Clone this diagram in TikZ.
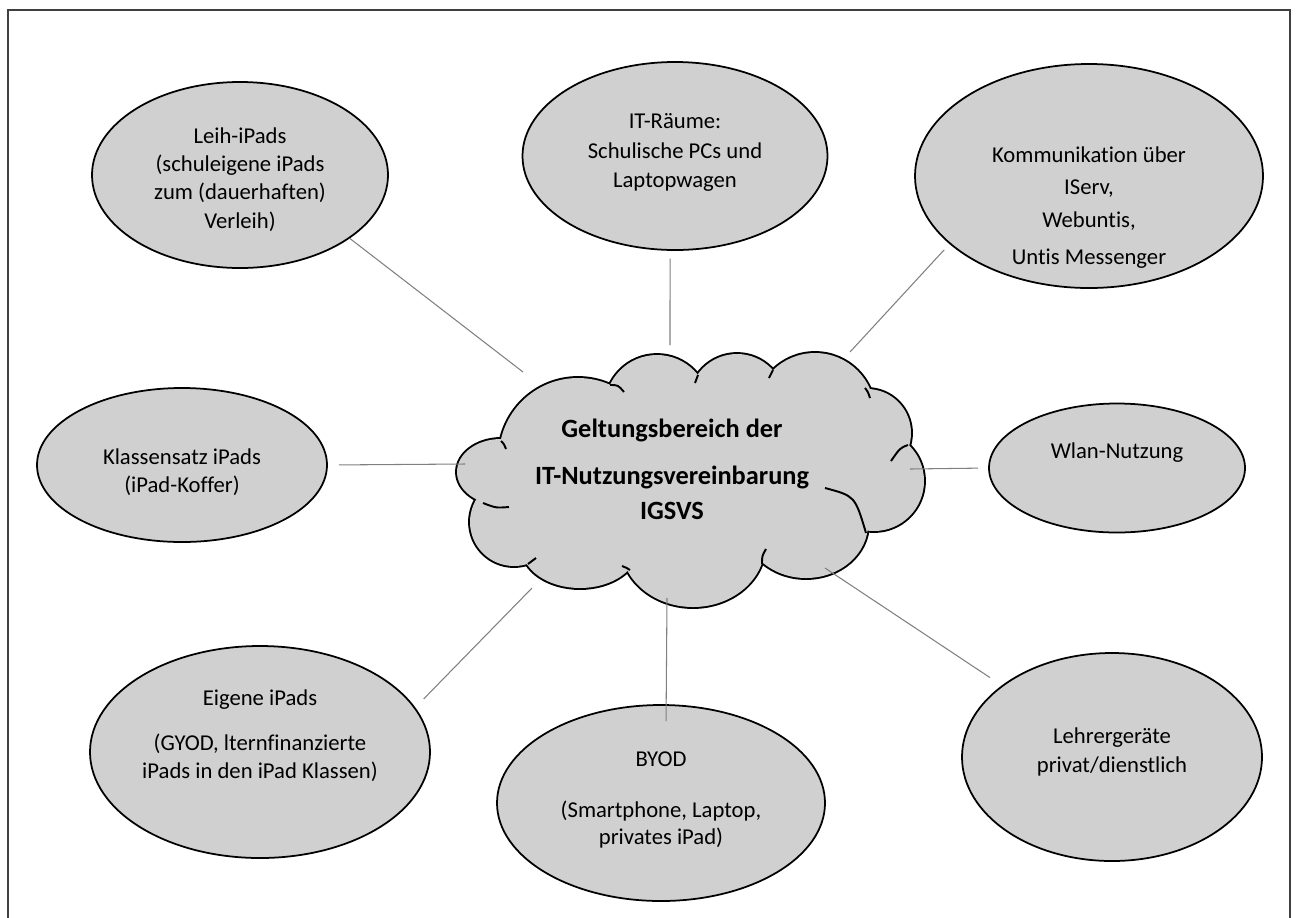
\documentclass[tikz,border=0pt]{standalone}
\usepackage{fontspec}
\setmainfont{Carlito}[Ligatures=NoCommon]
\usetikzlibrary{shapes.geometric}
\definecolor{bubblegray}{RGB}{208,208,208}
\definecolor{linkgray}{RGB}{128,128,128}
\definecolor{framegray}{RGB}{64,64,64}
\newcommand{\bubblefont}{\fontsize{12.9}{16.2}\selectfont}
\newcommand{\cloudfont}{\fontsize{15}{20}\selectfont\bfseries}
% puffs of the cloud: x/y/x radius/y radius
\newcommand{\puffs}{578/457/79/79, 657/407/52/52, 737/402/48/48, 815/413/60/60,
  867/433/44/44, 874/481/50/50, 806/524/62/54, 693/545/72/62,
  580/548/58/40, 514/522/44/44, 501/472/44/33}

\begin{document}
\begin{tikzpicture}[x=0.02cm, y=-0.02cm,
   bubble/.style 2 args={ellipse, draw=black, line width=1pt, fill=bubblegray,
      inner sep=0pt, minimum width=#1*0.02cm, minimum height=#2*0.02cm},
   bubbletext/.style={align=center, font=\bubblefont, inner sep=0pt},
   puff/.style={draw=black, line width=2.2pt, fill=bubblegray},
   hint/.style={draw=black, line width=1.1pt},
   link/.style={draw=linkgray, line width=0.6pt},
   frame/.style={draw=framegray, line width=1.2pt}]
   \useasboundingbox (0,0) rectangle (1298,917);
   \clip (0,0) rectangle (1298,917);
   \draw[frame] (8,940) -- (8,10) -- (1290,10) -- (1290,940);

   % cloud
   \foreach \cx/\cy/\rx/\ry in \puffs
      \path[puff] (\cx,\cy) ellipse [x radius=\rx, y radius=\ry];
   \foreach \cx/\cy/\rx/\ry in \puffs
      \fill[bubblegray] (\cx,\cy) ellipse [x radius=\rx, y radius=\ry];
   \fill[bubblegray] (690,480) ellipse [x radius=190, y radius=90];
   \path[hint] (501,441) .. controls (504,444) .. (506,449)
      (483,503) .. controls (496,508) .. (509,507)
      (610,385) .. controls (618,385) .. (624,392)
      (698,375) .. controls (697,379) .. (695,383)
      (773,370) .. controls (771,374) .. (769,378)
      (865,388) .. controls (868,392) .. (870,398)
      (908,445) .. controls (900,448) .. (891,461)
      (825,488) .. controls (855,496) .. (866,533)
      (762,564) .. controls (762,556) .. (766,549)
      (630,570) .. controls (627,568) .. (622,566)
      (528,564) .. controls (532,561) .. (536,558);
   \node[font=\cloudfont, align=center, inner sep=0pt] (cloud) at (672,469)
      {Geltungsbereich der\\[6.7pt]IT-Nutzungsvereinbarung\\IGSVS};

   \node[bubble={296}{186}, label={[bubbletext, yshift=-2.5pt]center:Leih-iPads\\(schuleigene iPads\\zum (dauerhaften)\\Verleih)}] (leih) at (240,175) {};
   \node[bubble={305}{188}, label={[bubbletext, yshift=2pt]center:IT-Räume:\\[0.8pt]Schulische PCs und\\[0.8pt]Laptopwagen}] (it) at (675,156) {};
   \node[bubble={348}{224}, label={[bubbletext, yshift=-18pt]center:Kommunikation über\\[1.5pt]IServ,\\[3pt]Webuntis,\\[4.5pt]Untis Messenger}] (komm) at (1089,176) {};
   \node[bubble={290}{154}, label={[bubbletext, yshift=-4pt]center:Klassensatz iPads\\(iPad-Koffer)}] (klassen) at (182,465) {};
   \node[bubble={256}{129}, label={[bubbletext, yshift=8.5pt]center:Wlan-Nutzung}] (wlan) at (1117,468) {};
   \node[bubble={340}{212}, label={[bubbletext, yshift=9.4pt]center:Eigene iPads\\[9.4pt](GYOD, lternfinanzierte\\iPads in den iPad Klassen)}] (eigene) at (260,752) {};
   \node[bubble={328}{196}, label={[bubbletext, yshift=1.7pt]center:BYOD\\[12.8pt](Smartphone, Laptop,\\[-1pt]privates iPad)}] (byod) at (661,803) {};
   \node[bubble={300}{208}, label={[bubbletext, yshift=2.8pt]center:Lehrergeräte\\privat/dienstlich}] (lehrer) at (1112,757) {};

   \coordinate (c-leih) at (523,372);
   \coordinate (c-it) at (670,345);
   \coordinate (c-komm) at (850,352);
   \coordinate (c-klassen) at (465,464);
   \coordinate (c-wlan) at (910,469);
   \coordinate (c-eigene) at (532,588);
   \coordinate (c-byod) at (667,598);
   \coordinate (c-lehrer) at (825,568);

   \path[link]
      (leih.-30) edge (c-leih)
      (it.-93) edge[shorten <=4.5pt] (c-it)
      (komm.-154) edge[shorten <=4.5pt] (c-komm)
      (klassen.east) edge[shorten <=6.3pt] (c-klassen)
      (wlan.west) edge[shorten <=5.7pt] (c-wlan)
      (eigene.16) edge[shorten <=6.8pt] (c-eigene)
      (byod.87) edge[shorten <=-9.7pt] (c-byod)
      (lehrer.147) edge[shorten <=8pt] (c-lehrer);
\end{tikzpicture}
\end{document}
